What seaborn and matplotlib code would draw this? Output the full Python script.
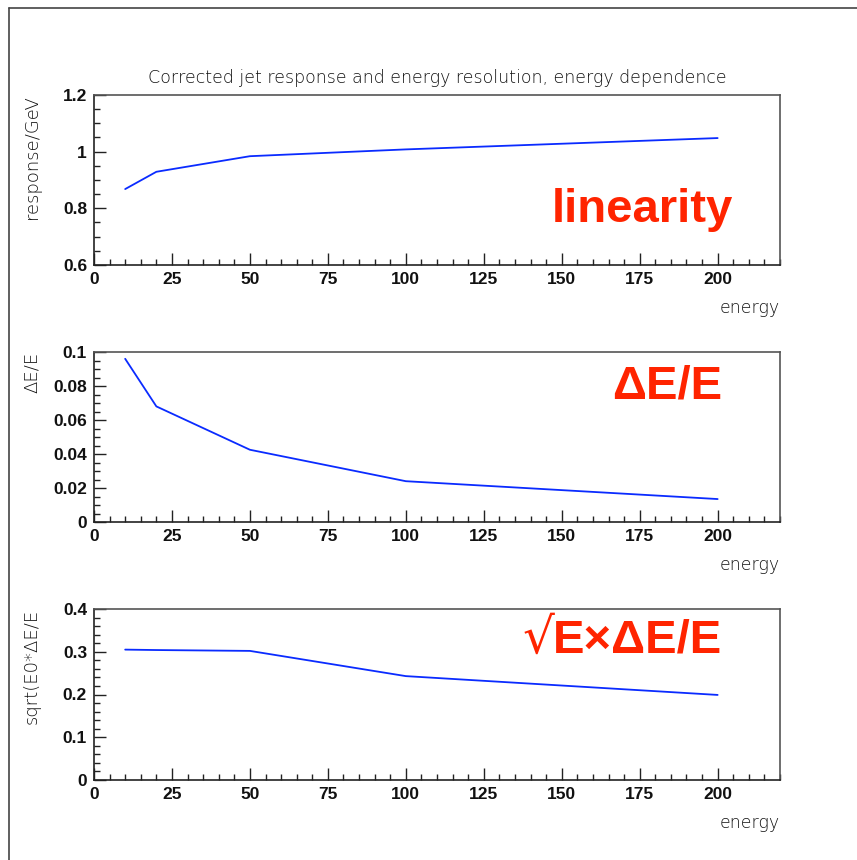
import matplotlib
matplotlib.use("Agg")
import matplotlib.pyplot as plt
from matplotlib.lines import Line2D
from matplotlib.ticker import MultipleLocator
import seaborn as sns
import pandas as pd

# Jet energies (GeV) and measured quantities
energy = [10, 20, 50, 100, 200]
response = [0.868, 0.929, 0.984, 1.008, 1.048]
resolution = [0.096, 0.068, 0.0425, 0.024, 0.0135]
scaled_resolution = [0.305, 0.304, 0.302, 0.243, 0.199]

ylabels = ["response/GeV", "\u0394E/E", "sqrt(E0*\u0394E/E"]
tags = ["linearity", "\u0394E/E", "E\u00d7\u0394E/E"]
title = "Corrected jet response and energy resolution, energy dependence"

sns.set_theme(style="white")
plt.rcParams["font.family"] = ["Liberation Sans", "DejaVu Sans"]

W, H = 857, 860
fig = plt.figure(figsize=(W / 100, H / 100), dpi=100)

def fx(px):
    return px / W

def fy(py):
    return 1 - py / H

panels = [
    dict(top=95, bottom=265, y=response, ylim=(0.6, 1.2), major=0.2, minor=0.05),
    dict(top=352, bottom=522, y=resolution, ylim=(0, 0.1), major=0.02, minor=0.005),
    dict(top=609, bottom=780, y=scaled_resolution, ylim=(0, 0.4), major=0.1, minor=0.02),
]

left_px, right_px = 94, 780
red = "#ff2400"
blue = "#0a2bff"
thin = dict(family=["DejaVu Sans"], fontweight="light")

axes = []
for i, p in enumerate(panels):
    ax = fig.add_axes([fx(left_px), fy(p["bottom"]), fx(right_px - left_px),
                       (p["bottom"] - p["top"]) / H])
    df = pd.DataFrame({"energy": energy, "value": p["y"]})
    sns.lineplot(data=df, x="energy", y="value", ax=ax, color=blue, lw=1.3)
    ax.set_xlim(0, 220)
    ax.set_ylim(*p["ylim"])
    ax.xaxis.set_minor_locator(MultipleLocator(5))
    ax.yaxis.set_minor_locator(MultipleLocator(p["minor"]))
    xt = list(range(0, 201, 25))
    ax.set_xticks(xt)
    ax.set_xticklabels([str(t) for t in xt])
    n = int(round((p["ylim"][1] - p["ylim"][0]) / p["major"]))
    yt = [round(p["ylim"][0] + k * p["major"], 4) for k in range(n + 1)]
    ax.set_yticks(yt)
    ax.set_yticklabels([f"{v:g}" for v in yt])
    ax.tick_params(which="major", direction="in", length=8.5, width=1.0, color="#222",
                   labelsize=12.5, pad=5, bottom=True, left=True, top=False, right=False)
    ax.tick_params(which="minor", direction="in", length=4.3, width=1.0, color="#222",
                   bottom=True, left=True, top=False, right=False)
    for lab in ax.get_xticklabels() + ax.get_yticklabels():
        lab.set_fontweight("bold")
        lab.set_color("#111")
    for s in ax.spines.values():
        s.set_color("#222")
        s.set_linewidth(1.2)
    ax.spines["top"].set_color("#555")
    ax.spines["right"].set_color("#555")
    ax.set_xlabel("")
    ax.set_ylabel("")
    # axis titles
    fig.text(fx(780), fy(p["bottom"] + 43), "energy", ha="right", va="center",
             fontsize=12.5, color="#111", **thin)
    fig.text(fx(32), fy(p["top"]), ylabels[i], rotation=90, ha="center", va="top",
             fontsize=13, color="#111", **thin)
    axes.append(ax)

fig.text(fx(437), fy(78), title, ha="center", va="center", fontsize=12.5, color="#111", **thin)

# red panel tags
axes[0].text(0.9315, 0.253, tags[0], transform=axes[0].transAxes, ha="right", va="baseline",
             fontsize=34, fontweight="bold", color=red)
axes[1].text(0.9155, 0.729, tags[1], transform=axes[1].transAxes, ha="right", va="baseline",
             fontsize=34, fontweight="bold", color=red)
axes[2].text(0.9155, 0.743, tags[2], transform=axes[2].transAxes, ha="right", va="baseline",
             fontsize=34, fontweight="bold", color=red)
axes[2].text((538 - left_px) / (right_px - left_px), 0.743, "\u221a", transform=axes[2].transAxes,
             ha="center", va="baseline", fontsize=36, color=red, family=["DejaVu Serif"])

# outer frame
fig.add_artist(Line2D([fx(8.5), 1], [fy(7.5), fy(7.5)], color="#444", lw=1.2))
fig.add_artist(Line2D([fx(8.5), fx(8.5)], [0, fy(7.5)], color="#444", lw=1.2))

fig.savefig("out.png", dpi=100)
